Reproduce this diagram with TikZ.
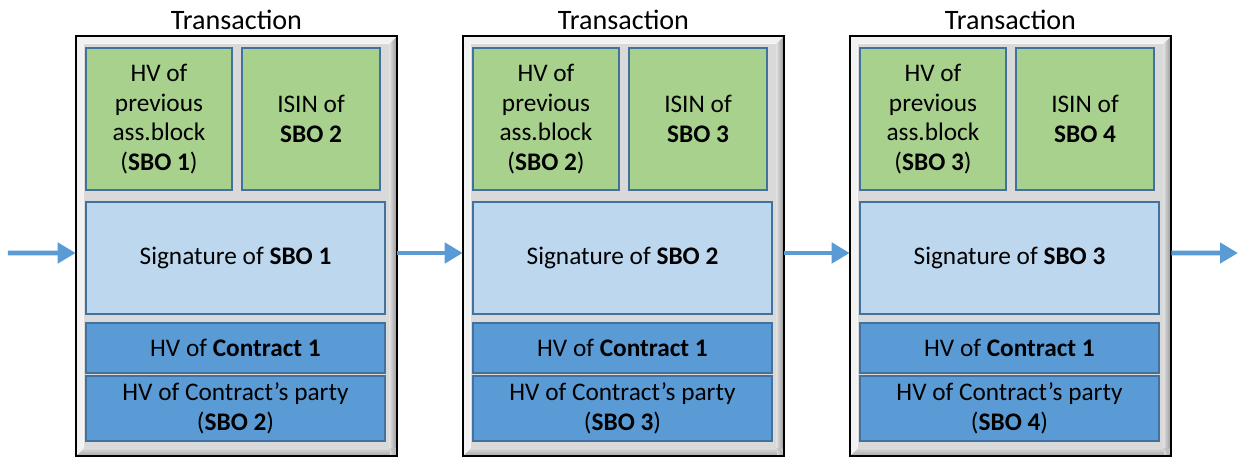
\documentclass[tikz,border=0pt]{standalone}
\usepackage{fontspec}
\setmainfont{Carlito}
\usetikzlibrary{arrows.meta,calc}
\definecolor{cellgreen}{HTML}{A9D18E}
\definecolor{cellline}{HTML}{41719C}
\definecolor{siglight}{HTML}{BDD7EE}
\definecolor{hvblue}{HTML}{5B9BD5}
\definecolor{framegray}{HTML}{D9D9D9}
\tikzset{
  txframe/.style={rectangle,minimum width=8.025cm,minimum height=10.5cm,inner sep=0pt},
  txtitle/.style={font=\fontsize{20}{24}\selectfont},
  cell/.style={rectangle,draw=cellline,line width=0.8pt,inner sep=0pt,align=center,
    font=\fontsize{18}{21}\selectfont},
  hashcell/.style={cell,fill=cellgreen,minimum height=3.55cm},
  sigcell/.style={cell,fill=siglight,minimum width=7.475cm,minimum height=2.8cm},
  hvcell/.style={cell,fill=hvblue,minimum width=7.475cm},
  flow/.style={draw=hvblue,line width=3.5pt,-{Triangle[length=0.45cm,width=0.5cm]}}
}
% bevelled grey frame round a transaction node
\newcommand{\bevelframe}[1]{
  \shade[left color=gray!25,right color=gray!85] ($(#1.north east)+(-0.2,0)$) rectangle (#1.south east);
  \shade[top color=gray!30,bottom color=gray!70] (#1.south west) rectangle ($(#1.south east)+(-0.2,0.2)$);
  \fill[gray!10] (#1.north west) -- (#1.north east) -- ($(#1.north east)+(-0.2,-0.2)$)
    -- ($(#1.north west)+(0.2,-0.2)$) -- ($(#1.south west)+(0.2,0.2)$) -- (#1.south west) -- cycle;
  \fill[gray!50] (#1.south east) -- ($(#1.south east)+(-0.2,0.2)$) -- ($(#1.south east)+(0,0.2)$) -- cycle;
  \fill[framegray] ($(#1.north west)+(0.2,-0.2)$) rectangle ($(#1.south east)+(-0.2,0.2)$);
  \draw[black,line width=1.2pt] (#1.north west) rectangle (#1.south east);
}
\begin{document}
\begin{tikzpicture}
  \useasboundingbox (0,0) rectangle (31.075,11.425);

  %Transaction 1
  \node[txframe] (tx1) at (5.9125,5.275) {};
  \bevelframe{tx1}
  \node[txtitle] (title1) at (5.9125,10.93) {Transaction};
  \node[hashcell,minimum width=3.65cm] (prev1) at (3.975,8.45) {HV of\\previous\\ass.block\\(\textbf{SBO 1})};
  \node[hashcell,minimum width=3.45cm] (isin1) at (7.775,8.45) {ISIN of\\\textbf{SBO 2}};
  \node[sigcell] (sig1) at (5.8875,4.975) {Signature of \textbf{SBO 1}};
  \node[hvcell,minimum height=1.25cm] (contract1) at (5.8875,2.725) {HV of \textbf{Contract 1}};
  \node[hvcell,minimum height=1.625cm] (party1) at (5.8875,1.2125) {HV of Contract’s party\\(\textbf{SBO 2})};

  %Transaction 2
  \node[txframe] (tx2) at (15.5875,5.275) {};
  \bevelframe{tx2}
  \node[txtitle] (title2) at (15.5875,10.93) {Transaction};
  \node[hashcell,minimum width=3.65cm] (prev2) at (13.65,8.45) {HV of\\previous\\ass.block\\(\textbf{SBO 2})};
  \node[hashcell,minimum width=3.45cm] (isin2) at (17.45,8.45) {ISIN of\\\textbf{SBO 3}};
  \node[sigcell] (sig2) at (15.5625,4.975) {Signature of \textbf{SBO 2}};
  \node[hvcell,minimum height=1.25cm] (contract2) at (15.5625,2.725) {HV of \textbf{Contract 1}};
  \node[hvcell,minimum height=1.625cm] (party2) at (15.5625,1.2125) {HV of Contract’s party\\(\textbf{SBO 3})};

  %Transaction 3
  \node[txframe] (tx3) at (25.2625,5.275) {};
  \bevelframe{tx3}
  \node[txtitle] (title3) at (25.2625,10.93) {Transaction};
  \node[hashcell,minimum width=3.65cm] (prev3) at (23.325,8.45) {HV of\\previous\\ass.block\\(\textbf{SBO 3})};
  \node[hashcell,minimum width=3.45cm] (isin3) at (27.125,8.45) {ISIN of\\\textbf{SBO 4}};
  \node[sigcell] (sig3) at (25.2375,4.975) {Signature of \textbf{SBO 3}};
  \node[hvcell,minimum height=1.25cm] (contract3) at (25.2375,2.725) {HV of \textbf{Contract 1}};
  \node[hvcell,minimum height=1.625cm] (party3) at (25.2375,1.2125) {HV of Contract’s party\\(\textbf{SBO 4})};

  %chain arrows
  \coordinate (in) at (0.2,5.1);
  \coordinate (out) at (30.95,5.1);
  \draw[flow] (in) -- ([yshift=-0.175cm]tx1.west);
  \draw[flow] ([yshift=-0.175cm]tx1.east) -- ([yshift=-0.175cm]tx2.west);
  \draw[flow] ([yshift=-0.175cm]tx2.east) -- ([yshift=-0.175cm]tx3.west);
  \draw[flow] ([yshift=-0.175cm]tx3.east) -- (out);
\end{tikzpicture}
\end{document}
